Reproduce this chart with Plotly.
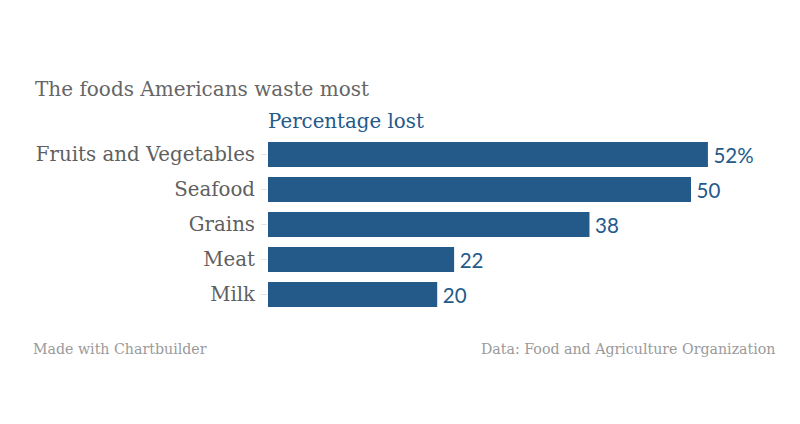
import plotly.graph_objects as go

categories = ["Fruits and Vegetables", "Seafood", "Grains", "Meat", "Milk"]
values = [52, 50, 38, 22, 20]
value_labels = [f"\u2009{v}%" if i == 0 else f"\u2009{v}" for i, v in enumerate(values)]

BLUE = "#245a8a"
GRAY = "#5f5f5f"
SERIF = "DejaVu Serif"
OFF = 8  # default page body margin

W, H = 800, 424
# page-pixel plot box, converted to figure coordinates
PL, PR, PT, PB = 268, 760, 136.5, 312
L, R, T, B = PL - OFF, W - (PR - OFF), PT - OFF, H - (PB - OFF)
plot_w = W - L - R
plot_h = H - T - B

fig = go.Figure(go.Bar(
    y=categories, x=values, orientation="h",
    marker=dict(color=BLUE, line=dict(width=0)),
    text=value_labels, textposition="outside",
    textfont=dict(family="Lato", size=20.5, color=BLUE),
    cliponaxis=False, hoverinfo="skip",
))

fig.update_layout(
    width=W, height=H,
    margin=dict(l=L, r=R, t=T, b=B),
    paper_bgcolor="white", plot_bgcolor="white",
    bargap=0.286, showlegend=False,
    xaxis=dict(range=[0, plot_w / 8.46], visible=False, fixedrange=True),
    yaxis=dict(autorange="reversed", showgrid=False, zeroline=False, showline=False,
               ticks="outside", ticklen=6, tickcolor="#e2e2e2", tickwidth=1,
               tickfont=dict(family=SERIF, size=19.8, color=GRAY), ticklabelstandoff=2),
)

def px(x):
    return (x - PL) / plot_w
def py(y):
    return (PB - y) / plot_h

fig.add_annotation(text="The foods Americans waste most", xref="paper", yref="paper",
                   x=px(33), y=py(88), xanchor="left", yanchor="middle", showarrow=False,
                   font=dict(family=SERIF, size=20, color="#666666"))
fig.add_annotation(text="Percentage lost", xref="paper", yref="paper",
                   x=px(266), y=py(121), xanchor="left", yanchor="middle", showarrow=False,
                   font=dict(family=SERIF, size=19.8, color=BLUE))
fig.add_annotation(text="Made with Chartbuilder", xref="paper", yref="paper",
                   x=px(31), y=py(349), xanchor="left", yanchor="middle", showarrow=False,
                   font=dict(family=SERIF, size=14.2, color="#9a9a9a"))
fig.add_annotation(text="Data: Food and Agriculture Organization", xref="paper", yref="paper",
                   x=px(778), y=py(349), xanchor="right", yanchor="middle", showarrow=False,
                   font=dict(family=SERIF, size=14.2, color="#9a9a9a"))

fig.write_html("out.html")
